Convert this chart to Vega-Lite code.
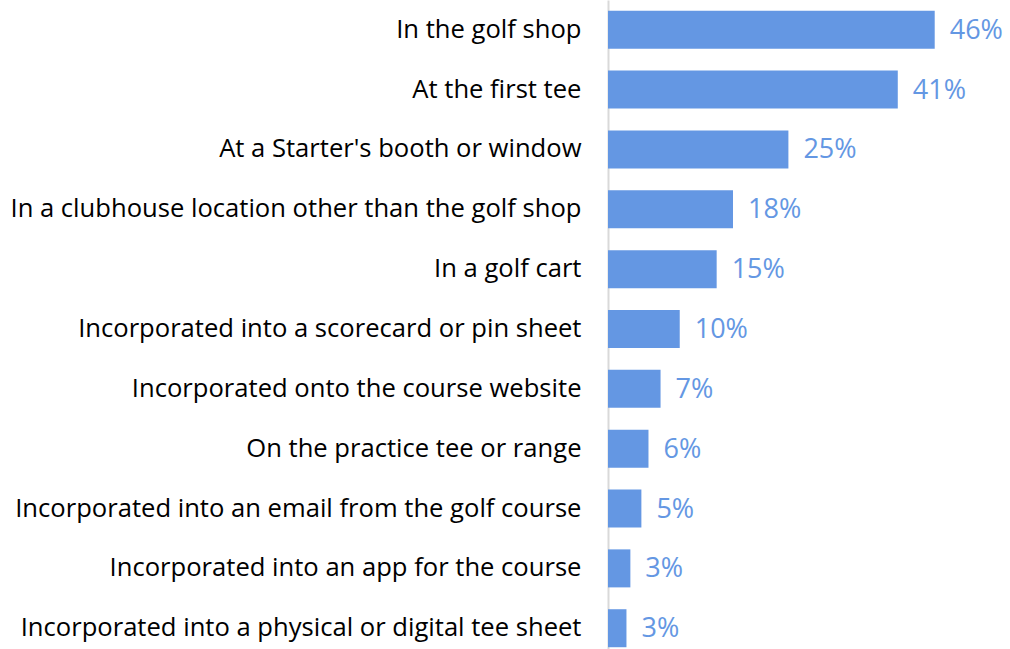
{
  "$schema": "https://vega.github.io/schema/vega-lite/v6.json",
  "autosize": {"type": "none"},
  "padding": {"left": 608, "top": 0, "right": 0, "bottom": 0},
  "width": 402,
  "height": 658,
  "background": "white",
  "config": {"view": {"stroke": null}, "font": "Open Sans"},
  "data": {"values": [
    {"location": "In the golf shop", "value": 46.0, "label": "46%"},
    {"location": "At the first tee", "value": 40.8, "label": "41%"},
    {"location": "At a Starter's booth or window", "value": 25.4, "label": "25%"},
    {"location": "In a clubhouse location other than the golf shop", "value": 17.6, "label": "18%"},
    {"location": "In a golf cart", "value": 15.3, "label": "15%"},
    {"location": "Incorporated into a scorecard or pin sheet", "value": 10.1, "label": "10%"},
    {"location": "Incorporated onto the course website", "value": 7.4, "label": "7%"},
    {"location": "On the practice tee or range", "value": 5.7, "label": "6%"},
    {"location": "Incorporated into an email from the golf course", "value": 4.7, "label": "5%"},
    {"location": "Incorporated into an app for the course", "value": 3.15, "label": "3%"},
    {"location": "Incorporated into a physical or digital tee sheet", "value": 2.6, "label": "3%"}
  ]},
  "encoding": {
    "y": {
      "field": "location", "type": "nominal", "sort": null,
      "scale": {"paddingInner": 0.365, "paddingOuter": 0.18},
      "axis": {
        "title": null, "ticks": false, "domainColor": "#d9d9d9", "domainWidth": 2,
        "labelFontSize": 25.6, "labelColor": "#000000", "labelPadding": 27, "labelLimit": 700, "labelFont": "Open Sans"
      }
    },
    "x": {
      "field": "value", "type": "quantitative",
      "scale": {"domain": [0, 56.6], "nice": false},
      "axis": null
    }
  },
  "layer": [
    {"mark": {"type": "bar", "color": "#6497E3"}},
    {"mark": {"type": "text", "align": "left", "baseline": "middle", "dx": 15, "dy": 1, "fontSize": 27, "color": "#6497E3", "font": "Open Sans"},
     "encoding": {"text": {"field": "label"}}}
  ]
}
